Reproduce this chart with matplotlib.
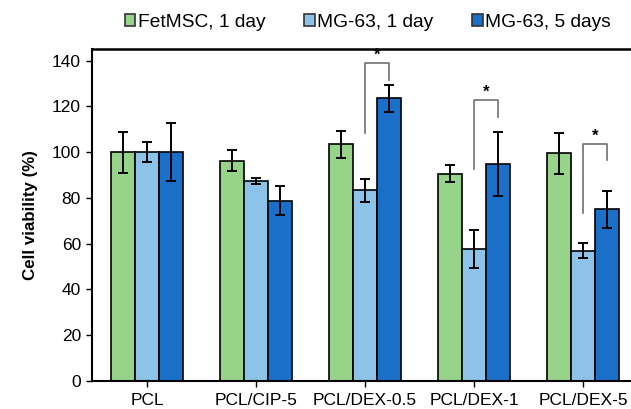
import matplotlib
matplotlib.use("Agg")
import matplotlib.pyplot as plt
import numpy as np
from matplotlib.patches import Patch

plt.rcParams['font.family'] = ['Liberation Sans', 'DejaVu Sans']

categories = ["PCL", "PCL/CIP-5", "PCL/DEX-0.5", "PCL/DEX-1", "PCL/DEX-5"]
series_names = ["FetMSC, 1 day", "MG-63, 1 day", "MG-63, 5 days"]
fetmsc_1d = [100, 96.3, 103.4, 90.7, 99.6]
fetmsc_1d_err = [9.0, 4.5, 6.0, 3.8, 8.9]
mg63_1d = [100, 87.4, 83.3, 57.6, 56.9]
mg63_1d_err = [4.4, 1.5, 5.0, 8.3, 3.3]
mg63_5d = [100, 78.9, 123.5, 94.9, 75.1]
mg63_5d_err = [12.7, 6.4, 5.7, 14.0, 8.0]
# significance brackets: (category index, top, left leg bottom, right leg bottom)
sig_groups = [2, 3, 4]
sig_top = [138.8, 122.8, 103.5]
sig_left_bottom = [108.6, 92.6, 73.4]
sig_right_bottom = [131.7, 115.6, 96.4]

colors = ["#98D38A", "#8DC3E8", "#1A6FC8"]

fig = plt.figure(figsize=(6.31, 4.09), dpi=100)
ax = fig.add_axes([92/631, 28/409, 1 - 92/631, (381-49.3)/409])

x = np.arange(len(categories))
w = 0.22
vals = [fetmsc_1d, mg63_1d, mg63_5d]
errs = [fetmsc_1d_err, mg63_1d_err, mg63_5d_err]
for i in range(3):
    ax.bar(x + (i - 1) * w, vals[i], w, color=colors[i], edgecolor="black",
           linewidth=1.2, yerr=errs[i], capsize=3.5,
           error_kw=dict(elinewidth=1.4, capthick=1.4, ecolor="black"), zorder=2)

for g, top, lb, rb in zip(sig_groups, sig_top, sig_left_bottom, sig_right_bottom):
    xl = x[g]
    xr = x[g] + w
    ax.plot([xl, xl, xr, xr], [lb, top, top, rb], color="#707070", lw=1.2, zorder=3)
    ax.text((xl + xr) / 2, top + 0.3, "*", ha="center", va="bottom",
            fontsize=12, fontweight="bold", color="black")

ax.set_xlim(-0.505, 4.44)
ax.set_ylim(0, 145)
ax.set_yticks(np.arange(0, 141, 20))
ax.set_xticks(x)
ax.set_xticklabels(categories, fontsize=12.5)
ax.tick_params(axis='x', length=4, width=1, pad=4.5)
ax.tick_params(axis='y', length=4, width=1, labelsize=12.5, pad=4)
for s in ["left", "bottom", "top"]:
    ax.spines[s].set_linewidth(1.5)
ax.spines["top"].set_linewidth(1.8)
ax.spines["right"].set_visible(False)
ax.set_ylabel("Cell viability (%)", fontsize=12.2, fontweight="bold", labelpad=10)

handles = [Patch(facecolor=c, edgecolor="#333333", linewidth=1.2) for c in colors]
fig.legend(handles, series_names, loc="center", bbox_to_anchor=(0.583, 0.946),
           ncol=3, frameon=False, fontsize=13.8, handlelength=0.55, handleheight=0.55,
           handletextpad=0.15, columnspacing=2.0)

fig.savefig("out.png", dpi=100)
